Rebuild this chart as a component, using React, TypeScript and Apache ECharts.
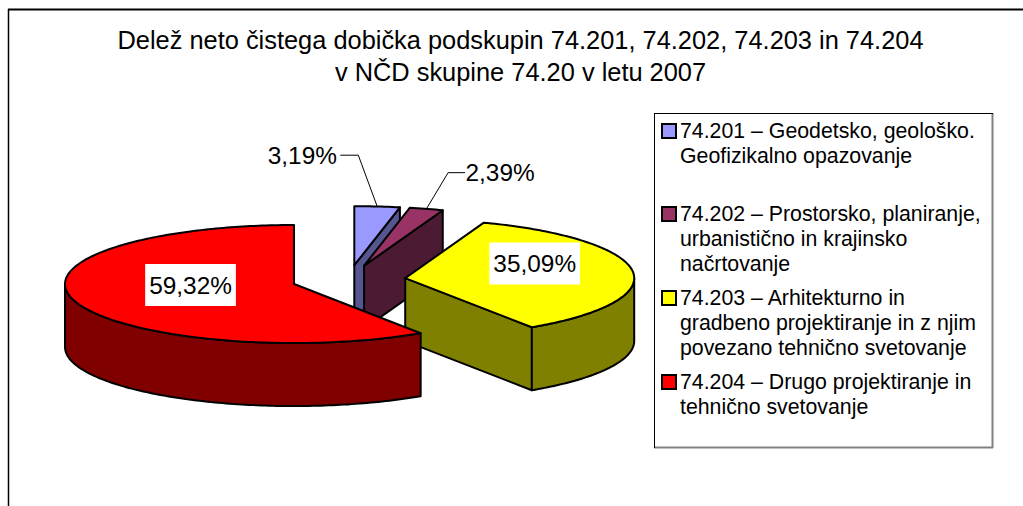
import React, { useEffect, useRef } from "react";
import * as echarts from "echarts";

const titleLines = [
  "Delež neto čistega dobička podskupin 74.201, 74.202, 74.203 in 74.204",
  "v NČD skupine 74.20 v letu 2007",
];
const categories = ["74.201", "74.202", "74.203", "74.204"];
const shares = [3.19, 2.39, 35.09, 59.32];
const shareLabels = ["3,19%", "2,39%", "35,09%", "59,32%"];
const topColors = ["#9999FF", "#993366", "#FFFF00", "#FF0000"];
const sideColors = ["#55558F", "#4D1A33", "#808000", "#800000"];
const legendTexts = [
  ["74.201 – Geodetsko, geološko.", "Geofizikalno opazovanje"],
  ["74.202 – Prostorsko, planiranje,", "urbanistično in krajinsko", "načrtovanje"],
  ["74.203 – Arhitekturno in", "gradbeno projektiranje in z njim", "povezano tehnično svetovanje"],
  ["74.204 – Drugo projektiranje in", "tehnično svetovanje"],
];
const legendRowTops = [131, 214, 298, 382];

// Layout of the exploded 3D pie
const FONT = "'Liberation Sans', Arial, sans-serif";
const CX = 348.6;
const CY = 279.8;
const RX = 229;
const RY = 59;
const DEPTH = 63;
const EXPLODE = 57;
// label centre relative to the slice's own centre
const labelOffsets = [
  [-52, -110],
  [136, -93],
  [129.5, -14.5],
  [-103.5, 1],
];
const labelOutside = [true, true, false, false];
// leader elbow as an offset from the label centre
const leaderEdge = [38, -35];
const leaderRun = [18, -17];

const total = shares.reduce((a, b) => a + b, 0);
const toRad = (d: number) => (d * Math.PI) / 180;

function slices() {
  let acc = 0;
  return shares.map((v) => {
    const start = (acc / total) * 360;
    acc += v;
    return { start, end: (acc / total) * 360 };
  });
}

const rim = (cx: number, cy: number, t: number, dz = 0): number[] => [
  cx + RX * Math.sin(toRad(t)),
  cy - RY * Math.cos(toRad(t)) + dz,
];

function arc(cx: number, cy: number, a: number, b: number, dz = 0): number[][] {
  const pts: number[][] = [];
  const n = Math.max(2, Math.ceil(Math.abs(b - a)));
  for (let i = 0; i <= n; i++) pts.push(rim(cx, cy, a + ((b - a) * i) / n, dz));
  return pts;
}

const lineStyle = { stroke: "#000", lineWidth: 2, lineJoin: "round" as const };

function renderSlice(_: unknown, api: any) {
  const i = api.value(0) as number;
  const { start, end } = slices()[i];
  const mid = (start + end) / 2;
  const cx = CX + EXPLODE * Math.sin(toRad(mid));
  const cy = CY - EXPLODE * (RY / RX) * Math.cos(toRad(mid));
  const children: any[] = [];
  const side = { ...lineStyle, fill: sideColors[i] };

  const cutFace = (t: number) => {
    const p = rim(cx, cy, t);
    children.push({
      type: "polygon",
      shape: { points: [[cx, cy], p, [p[0], p[1] + DEPTH], [cx, cy + DEPTH]] },
      style: side,
    });
  };
  if (Math.sin(toRad(start)) < -1e-6) cutFace(start);
  if (Math.sin(toRad(end)) > 1e-6) cutFace(end);

  const a = Math.max(start, 90);
  const b = Math.min(end, 270);
  if (b > a) {
    children.push({
      type: "polygon",
      shape: { points: [...arc(cx, cy, a, b), ...arc(cx, cy, b, a, DEPTH)] },
      style: side,
    });
  }

  children.push({
    type: "polygon",
    shape: { points: [[cx, cy], ...arc(cx, cy, start, end)] },
    style: { ...lineStyle, fill: topColors[i] },
  });
  return { type: "group", children };
}

function renderLabel(_: unknown, api: any) {
  const i = api.value(0) as number;
  const { start, end } = slices()[i];
  const mid = (start + end) / 2;
  const cx = CX + EXPLODE * Math.sin(toRad(mid));
  const cy = CY - EXPLODE * (RY / RX) * Math.cos(toRad(mid));
  const lx = cx + labelOffsets[i][0];
  const ly = cy + labelOffsets[i][1];
  const children: any[] = [];
  if (labelOutside[i]) {
    const anchor = rim(cx, cy, mid);
    const edgeX = lx + leaderEdge[i];
    const elbowX = edgeX + leaderRun[i];
    children.push({
      type: "polyline",
      shape: { points: [[edgeX, ly], [elbowX, ly], anchor] },
      style: { stroke: "#000", lineWidth: 1, fill: "none" },
    });
  }
  children.push({
    type: "text",
    x: lx,
    y: ly,
    style: {
      text: shareLabels[i],
      fill: "#000",
      font: `24.4px ${FONT}`,
      align: "center",
      verticalAlign: "middle",
      backgroundColor: labelOutside[i] ? undefined : "#fff",
      padding: labelOutside[i] ? 0 : [9, 4, 9, 4],
    },
  });
  return { type: "group", children };
}

function legendGraphics() {
  const els: any[] = [
    { type: "line", shape: { x1: 8, y1: 9.5, x2: 1023, y2: 9.5 }, style: { stroke: "#000", lineWidth: 2 } },
    { type: "line", shape: { x1: 8.5, y1: 9, x2: 8.5, y2: 506 }, style: { stroke: "#000", lineWidth: 1.5 } },
    { type: "rect", shape: { x: 654.5, y: 113.5, width: 338, height: 334 }, style: { fill: "#fff", stroke: "none" } },
    { type: "line", shape: { x1: 992.5, y1: 113, x2: 992.5, y2: 448 }, style: { stroke: "#808080", lineWidth: 2 } },
    { type: "line", shape: { x1: 654, y1: 447.5, x2: 993, y2: 447.5 }, style: { stroke: "#808080", lineWidth: 2 } },
    { type: "line", shape: { x1: 654, y1: 113.5, x2: 993, y2: 113.5 }, style: { stroke: "#000", lineWidth: 1 } },
    { type: "line", shape: { x1: 654.5, y1: 113, x2: 654.5, y2: 448 }, style: { stroke: "#000", lineWidth: 1 } },
  ];
  titleLines.forEach((t, i) => {
    els.push({
      type: "text",
      x: 520.5,
      y: 40 + i * 32,
      style: { text: t, fill: "#000", font: `25.4px ${FONT}`, align: "center", verticalAlign: "middle" },
    });
  });
  legendTexts.forEach((lines, r) => {
    const y = legendRowTops[r];
    els.push({
      type: "rect",
      shape: { x: 662, y: y - 7, width: 14, height: 14 },
      style: { fill: topColors[r], stroke: "#000", lineWidth: 2 },
    });
    lines.forEach((l, j) => {
      els.push({
        type: "text",
        x: 680,
        y: y + j * 25.2,
        style: { text: l, fill: "#000", font: `21.3px ${FONT}`, align: "left", verticalAlign: "middle" },
      });
    });
  });
  return els;
}

export default function App() {
  const ref = useRef<HTMLDivElement>(null);
  useEffect(() => {
    document.body.style.margin = "0";
    document.body.style.background = "#fff";
    const chart = echarts.init(ref.current!, undefined, { renderer: "svg" });
    const data = categories.map((c, i) => ({ name: c, value: [i, shares[i]] }));
    chart.setOption({
      animation: false,
      backgroundColor: "#fff",
      graphic: { elements: legendGraphics() },
      series: [
        { type: "custom", coordinateSystem: "none", renderItem: renderSlice, data, silent: true, z: 2 },
        { type: "custom", coordinateSystem: "none", renderItem: renderLabel, data, silent: true, z: 3 },
      ],
    });
    return () => chart.dispose();
  }, []);
  return <div ref={ref} style={{ width: 1023, height: 506 }} />;
}
